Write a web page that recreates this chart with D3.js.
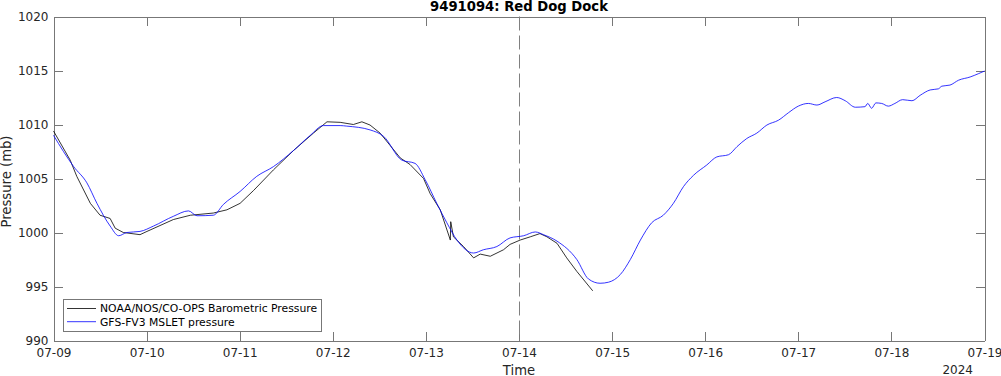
<!DOCTYPE html>
<html>
<head>
  <meta charset="utf-8">
  <title>9491094: Red Dog Dock</title>
  <style>
    body { margin: 0; background: #fff; }
    svg { font-family: "DejaVu Sans", sans-serif; }
    .axis path, .axis line { stroke: #777; shape-rendering: crispEdges; }
    .axis text { fill: #262626; font-size: 12px; font-family: "DejaVu Sans", sans-serif; }
  </style>
</head>
<body>
  <svg width="1001" height="376"></svg>
  <script src="https://d3js.org/d3.v7.min.js"></script>
  <script>
    // Observed (NOAA) pressure, hours after 2024-07-09 00:00 UTC
    const obsHours = [0, 4.3, 6.0, 9.5, 12.0, 14.6, 15.9, 18.0, 22.3, 24.1, 30.9, 35.3, 41.2, 44.7, 48.1,
      51.6, 56.7, 61.9, 67.0, 70.5, 73.9, 77.3, 79.5, 81.6, 84.2, 89.4, 91.9, 95.4, 97.1, 99.7,
      102.3, 102.4, 103.1, 105.7, 108.3, 110.0, 112.6, 116.0, 117.7, 120.3, 122.9, 125.4, 127.2,
      129.8, 132.3, 134.9, 139.0];
    const obsPressure = [1009.4, 1006.7, 1005.2, 1002.7, 1001.6, 1001.3, 1000.4, 1000.0, 999.8, 1000.1,
      1001.2, 1001.6, 1001.8, 1002.1, 1002.7, 1003.9, 1005.8, 1007.6, 1009.2, 1010.25, 1010.2, 1010.0,
      1010.25, 1009.95, 1009.2, 1006.9, 1006.3, 1005.0, 1003.6, 1002.1, 999.3, 1001.0, 999.6, 998.7,
      997.65, 998.0, 997.8, 998.4, 998.9, 999.3, 999.6, 999.9, 999.6, 999.0, 997.65, 996.4, 994.6];

    // GFS-FV3 model pressure
    const modelHours = [0, 5.2, 8.6, 11.2, 14.6, 16.8, 18.9, 22.3, 25.8, 30.9, 34.8, 37.0, 41.2, 43.8,
      48.1, 52.4, 56.7, 61.9, 66.2, 69.6, 73.9, 75.6, 81.6, 85.1, 89.8, 93.2, 95.8, 98.8, 101.4, 104.0,
      108.3, 110.8, 114.3, 117.7, 121.2, 124.2, 126.3, 129.8, 134.9, 137.9, 140.9, 143.1, 146.1, 148.7,
      151.3, 154.2, 157.2, 159.8, 162.4, 165.0, 168.4, 171.0, 174.0, 176.2, 178.7, 181.3, 183.9, 186.9,
      189.5, 192.0, 194.6, 196.8, 198.9, 201.9, 204.1, 206.7, 209.2, 209.9, 210.9, 212.0, 213.5, 215.2,
      216.9, 218.9, 221.3, 223.4, 226.0, 228.1, 229.0, 231.1, 233.3, 236.3, 238.4, 240];
    const modelPressure = [1009.0, 1006.1, 1004.6, 1002.7, 1000.6, 999.7, 1000.0, 1000.1, 1000.6, 1001.5,
      1002.0, 1001.55, 1001.6, 1002.6, 1003.8, 1005.2, 1006.1, 1007.6, 1009.0, 1009.9, 1009.9, 1009.85,
      1009.5, 1008.9, 1006.7, 1006.4, 1004.9, 1002.7, 1000.9, 999.3, 998.1, 998.4, 998.7, 999.5, 999.7,
      1000.05, 999.8, 999.2, 997.5, 995.7, 995.3, 995.4, 996.1, 997.5, 999.3, 1000.9, 1001.6, 1002.7,
      1004.25, 1005.3, 1006.25, 1007.0, 1007.2, 1007.95, 1008.7, 1009.2, 1009.95, 1010.4, 1011.1, 1011.7,
      1011.95, 1011.8, 1012.1, 1012.5, 1012.2, 1011.6, 1011.65, 1011.95, 1011.5, 1012.0, 1011.95, 1011.7,
      1011.95, 1012.3, 1012.2, 1012.7, 1013.2, 1013.3, 1013.55, 1013.65, 1014.1, 1014.4, 1014.7, 1014.95];

    const yTicks = [990, 995, 1000, 1005, 1010, 1015, 1020];
    const seriesNames = ["NOAA/NOS/CO-OPS Barometric Pressure", "GFS-FV3 MSLET pressure"];
    const seriesColors = ["#000000", "#0000ff"];
    const nowcastDate = new Date(Date.UTC(2024, 6, 14));

    const start = new Date(Date.UTC(2024, 6, 9));
    const end = new Date(Date.UTC(2024, 6, 19));
    const toDate = h => new Date(start.getTime() + h * 3600e3);

    const svg = d3.select("svg");
    const mLeft = 53.5, mRight = 984.5, mTop = 16.5, mBottom = 340.5;

    const x = d3.scaleUtc().domain([start, end]).range([mLeft, mRight]);
    const y = d3.scaleLinear().domain([990, 1020]).range([mBottom, mTop]);
    const xTicks = d3.utcDay.range(start, d3.utcDay.offset(end, 1));

    // axes, MATLAB-style inward ticks on all four sides
    svg.append("g").attr("class", "axis")
      .attr("transform", `translate(0,${mBottom})`)
      .call(d3.axisBottom(x).tickValues(xTicks).tickFormat(d3.utcFormat("%m-%d"))
        .tickSizeInner(-9).tickSizeOuter(0).tickPadding(7.5));
    svg.append("g").attr("class", "axis")
      .attr("transform", `translate(0,${mTop})`)
      .call(d3.axisTop(x).tickValues(xTicks).tickFormat("")
        .tickSizeInner(-9).tickSizeOuter(0));
    svg.append("g").attr("class", "axis")
      .attr("transform", `translate(${mLeft},0)`)
      .call(d3.axisLeft(y).tickValues(yTicks).tickFormat(d3.format("d"))
        .tickSizeInner(-9).tickSizeOuter(0).tickPadding(5));
    svg.append("g").attr("class", "axis")
      .attr("transform", `translate(${mRight},0)`)
      .call(d3.axisRight(y).tickValues(yTicks).tickFormat("")
        .tickSizeInner(-9).tickSizeOuter(0));

    // nowcast/forecast divider
    const xNow = Math.round(x(nowcastDate)) + 0.5;
    svg.append("line")
      .attr("x1", xNow).attr("x2", xNow)
      .attr("y1", mTop).attr("y2", mBottom)
      .attr("stroke", "#808080").attr("stroke-width", 1)
      .attr("stroke-dasharray", "14,5");

    const obsLine = d3.line().x(d => x(toDate(d[0]))).y(d => y(d[1]));
    const modelLine = d3.line().curve(d3.curveMonotoneX)
      .x(d => x(toDate(d[0]))).y(d => y(d[1]));

    svg.append("path")
      .datum(d3.zip(obsHours, obsPressure))
      .attr("d", obsLine)
      .attr("fill", "none")
      .attr("stroke", seriesColors[0])
      .attr("stroke-width", 0.8)
      .attr("stroke-linejoin", "round");
    svg.append("path")
      .datum(d3.zip(modelHours, modelPressure))
      .attr("d", modelLine)
      .attr("fill", "none")
      .attr("stroke", seriesColors[1])
      .attr("stroke-width", 0.8)
      .attr("stroke-linejoin", "round");

    // legend
    const legend = svg.append("g");
    legend.append("rect")
      .attr("x", 63.5).attr("y", 299.5).attr("width", 258).attr("height", 32)
      .attr("fill", "#fff").attr("stroke", "#777").attr("shape-rendering", "crispEdges");
    seriesNames.forEach((name, i) => {
      const ly = 308.5 + i * 13.2;
      legend.append("line")
        .attr("x1", 67).attr("x2", 96).attr("y1", ly).attr("y2", ly)
        .attr("stroke", seriesColors[i]).attr("stroke-width", 0.8);
      legend.append("text")
        .attr("x", 100).attr("y", ly + 3.8)
        .attr("font-size", "10.8px").attr("fill", "#000")
        .text(name);
    });

    // titles and labels
    svg.append("text")
      .attr("x", (mLeft + mRight) / 2).attr("y", 10.5)
      .attr("text-anchor", "middle").attr("font-weight", "bold")
      .attr("font-size", "13.2px").attr("fill", "#000")
      .text("9491094: Red Dog Dock");
    svg.append("text")
      .attr("x", (mLeft + mRight) / 2).attr("y", 374.5)
      .attr("text-anchor", "middle").attr("font-size", "13.2px").attr("fill", "#262626")
      .text("Time");
    svg.append("text")
      .attr("x", 973).attr("y", 374)
      .attr("text-anchor", "end").attr("font-size", "12px").attr("fill", "#262626")
      .text("2024");
    svg.append("text")
      .attr("transform", `translate(10.5,${(mTop + mBottom) / 2 + 3}) rotate(-90)`)
      .attr("text-anchor", "middle").attr("font-size", "13.2px").attr("fill", "#262626")
      .text("Pressure (mb)");
  </script>
</body>
</html>
